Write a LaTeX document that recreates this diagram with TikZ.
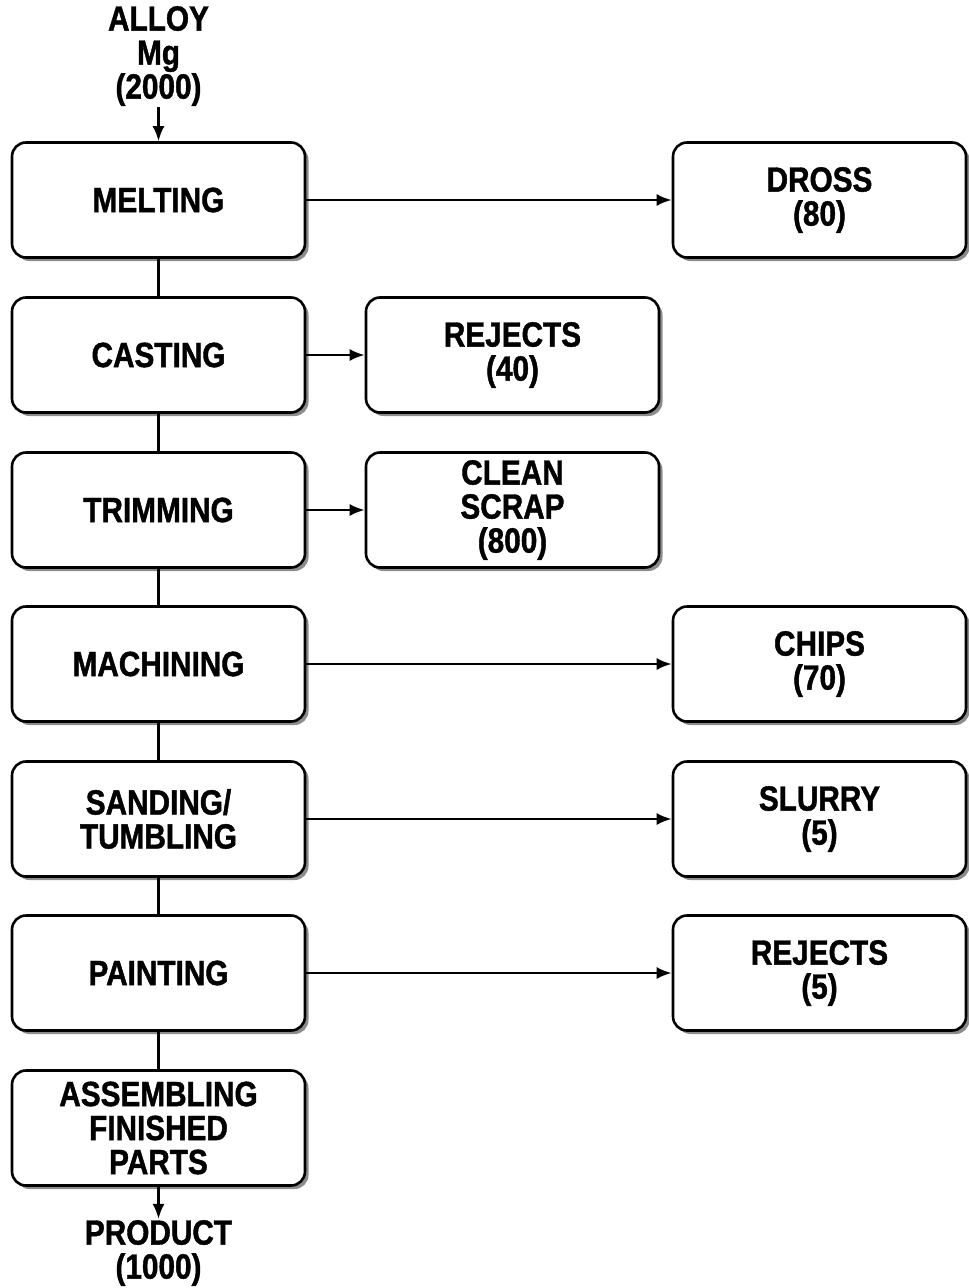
\documentclass[tikz,border=0pt]{standalone}
\usepackage{fontspec}
\setmainfont[FakeStretch=0.85, BoldFeatures={FakeBold=1.2}]{Liberation Sans}
\usetikzlibrary{positioning,arrows.meta,shadows}

\newcommand{\flowfont}{\fontsize{35}{34}\selectfont\bfseries}

\begin{document}
\begin{tikzpicture}[
                    x=1pt, y=-1pt,
                    stage/.style={draw, line width=2.6pt, rounded corners=14pt, fill=white,
                                  minimum width=293pt, minimum height=115pt, inner sep=2pt,
                                  align=center, font=\flowfont,
                                  drop shadow={shadow xshift=3.5pt, shadow yshift=-3.5pt,
                                               fill=black!45, opacity=1}},
                    label/.style={align=center, font=\flowfont, inner sep=1pt},
                    flow/.style={-{Latex[length=15pt,width=12pt]}, line width=2.4pt},
                    link/.style={line width=2.4pt}
                ]
                    \useasboundingbox (0,0) rectangle (969,1288);

                    % Process stages
                    \node[stage] (melt)  at (158.5,200)  {MELTING};
                    \node[stage] (cast)  at (158.5,355)  {CASTING};
                    \node[stage] (trim)  at (158.5,510)  {TRIMMING};
                    \node[stage] (mach)  at (158.5,664)  {MACHINING};
                    \node[stage] (sand)  at (158.5,819)  {SANDING/\\TUMBLING};
                    \node[stage] (paint) at (158.5,973)  {PAINTING};
                    \node[stage] (assem) at (158.5,1128) {ASSEMBLING\\FINISHED\\PARTS};

                    % Waste streams
                    \node[stage] (dross)   at (819.5,200) {DROSS\\(80)};
                    \node[stage] (rejcast) at (512.5,355) {REJECTS\\(40)};
                    \node[stage] (scrap)   at (512.5,510) {CLEAN\\SCRAP\\(800)};
                    \node[stage] (chips)   at (819.5,664) {CHIPS\\(70)};
                    \node[stage] (slurry)  at (819.5,819) {SLURRY\\(5)};
                    \node[stage] (rejpnt)  at (819.5,973) {REJECTS\\(5)};

                    % Input and output
                    \node[label] (alloy)   at (158.5,56)   {ALLOY\\Mg\\(2000)};
                    \node[label] (product) at (158.5,1253) {PRODUCT\\(1000)};

                    \draw[flow] (alloy) -- (melt);
                    \draw[flow] (assem) -- (product);

                    % Main line
                    \draw[link] (melt) -- (cast);
                    \draw[link] (cast) -- (trim);
                    \draw[link] (trim) -- (mach);
                    \draw[link] (mach) -- (sand);
                    \draw[link] (sand) -- (paint);
                    \draw[link] (paint) -- (assem);

                    % Losses
                    \draw[flow] (melt) -- (dross);
                    \draw[flow] (cast) -- (rejcast);
                    \draw[flow] (trim) -- (scrap);
                    \draw[flow] (mach) -- (chips);
                    \draw[flow] (sand) -- (slurry);
                    \draw[flow] (paint) -- (rejpnt);
                \end{tikzpicture}
\end{document}
